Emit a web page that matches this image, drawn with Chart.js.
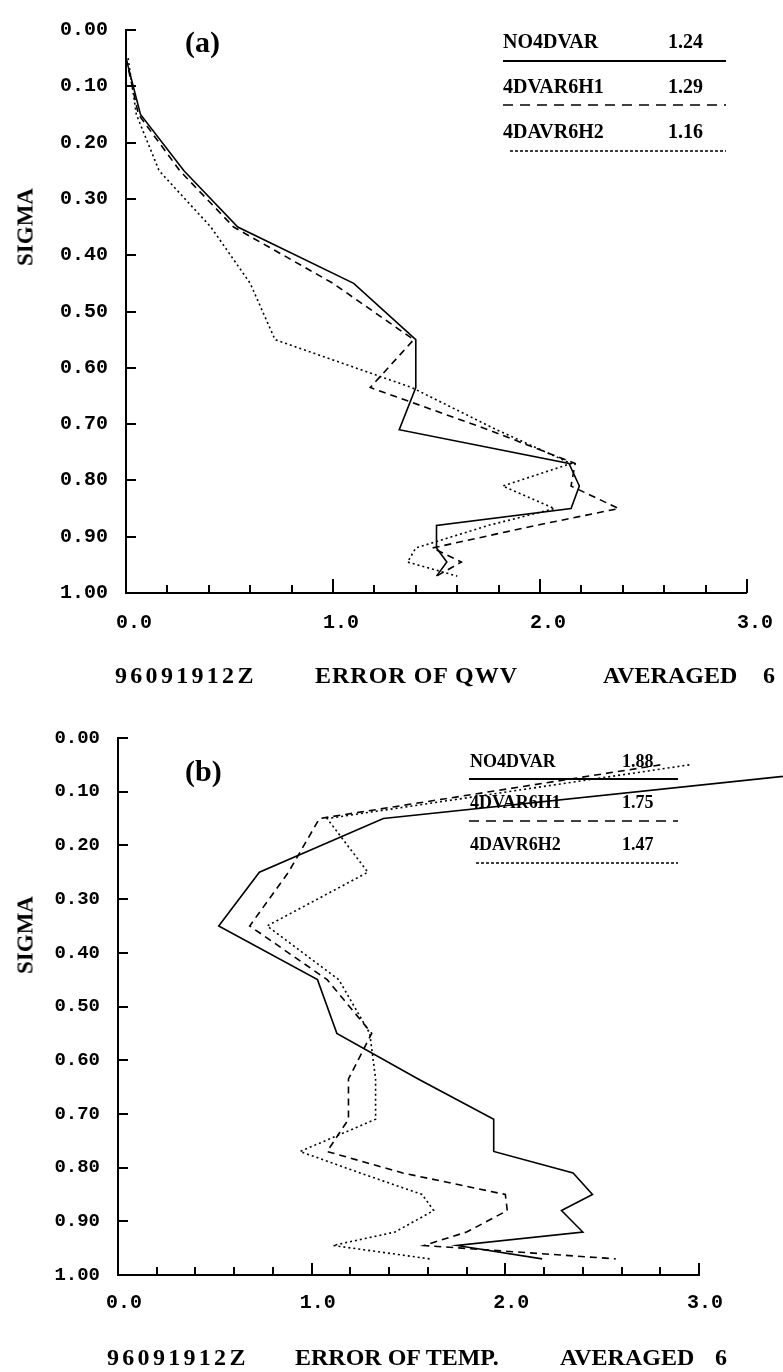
<!DOCTYPE html>
<html>
<head>
<meta charset="utf-8">
<title>Error profiles</title>
<script src="https://cdn.jsdelivr.net/npm/chart.js@4.4.1/dist/chart.umd.min.js"></script>
<style>
  body { margin: 0; background: #fff; }
  #page { position: relative; width: 783px; height: 1372px; overflow: hidden; background: #fff; }
  canvas { position: absolute; left: 0; }
  #chartA { top: 0; }
  #chartB { top: 690px; }
  .txt {
    position: absolute;
    font-family: "Liberation Serif", "DejaVu Serif", serif;
    font-weight: bold;
    color: #000;
    white-space: pre;
    line-height: 1;
  }
  .sigma { font-size: 23px; transform: translate(-50%, -50%) rotate(-90deg); }
  .cap { font-size: 24px; }
</style>
</head>
<body>
<div id="page">
  <canvas id="chartA" width="783" height="690"></canvas>
  <canvas id="chartB" width="783" height="682"></canvas>

  <div class="txt" style="left:185px; top:27px; font-size:30px;">(a)</div>
  <div class="txt sigma" style="left:25px; top:227px;">SIGMA</div>
  <div class="txt cap" style="left:115px; top:663px; letter-spacing:3.3px;">96091912Z</div>
  <div class="txt cap" style="left:315px; top:663px; letter-spacing:1px;">ERROR OF QWV</div>
  <div class="txt cap" style="left:603px; top:663px;">AVERAGED</div>
  <div class="txt cap" style="left:763px; top:663px;">6</div>

  <div class="txt" style="left:185px; top:756px; font-size:30px;">(b)</div>
  <div class="txt sigma" style="left:25px; top:935px;">SIGMA</div>
  <div class="txt cap" style="left:107px; top:1345px; letter-spacing:3.3px;">96091912Z</div>
  <div class="txt cap" style="left:295px; top:1345px;">ERROR OF TEMP.</div>
  <div class="txt cap" style="left:560px; top:1345px;">AVERAGED</div>
  <div class="txt cap" style="left:715px; top:1345px;">6</div>
</div>

<script>
// sigma levels shared by every profile
const SIGMA = [0.05, 0.15, 0.25, 0.35, 0.45, 0.55, 0.635, 0.71, 0.77, 0.81, 0.85, 0.88, 0.92, 0.945, 0.97];

const SERIES_NAMES = ['NO4DVAR', '4DVAR6H1', '4DAVR6H2'];

// (a) error of QWV
const QWV_NO4DVAR  = [0.00, 0.07, 0.28, 0.54, 1.10, 1.40, 1.40, 1.32, 2.14, 2.19, 2.15, 1.50, 1.50, 1.55, 1.50];
const QWV_4DVAR6H1 = [0.00, 0.06, 0.26, 0.52, 1.00, 1.39, 1.18, 1.75, 2.17, 2.15, 2.38, 1.98, 1.48, 1.62, 1.50];
const QWV_4DAVR6H2 = [0.01, 0.05, 0.16, 0.41, 0.60, 0.72, 1.38, 1.79, 2.15, 1.82, 2.07, 1.75, 1.40, 1.36, 1.60];
const QWV_MEANS = ['1.24', '1.29', '1.16'];

// (b) error of temperature
const TEMP_NO4DVAR  = [4.00, 1.37, 0.73, 0.52, 1.03, 1.13, 1.55, 1.94, 1.94, 2.35, 2.45, 2.29, 2.40, 1.75, 2.19];
const TEMP_4DVAR6H1 = [2.80, 1.04, 0.88, 0.68, 1.08, 1.31, 1.19, 1.19, 1.08, 1.47, 2.00, 2.01, 1.80, 1.58, 2.57];
const TEMP_4DAVR6H2 = [2.95, 1.08, 1.29, 0.77, 1.14, 1.30, 1.33, 1.33, 0.94, 1.25, 1.57, 1.63, 1.43, 1.11, 1.61];
const TEMP_MEANS = ['1.88', '1.75', '1.47'];

const X_MAX = 3;

const LINE_DASH = [[], [7, 5], [2, 3]];
const LEGEND_DASH = [[], [10, 7], [3, 2]];

function profile(values) {
    return values.map((v, i) => ({ x: v, y: SIGMA[i] }));
}

function makeDatasets(series, noClipFirst) {
    return series.map((vals, i) => ({
        label: SERIES_NAMES[i],
        data: profile(vals),
        showLine: true,
        borderColor: '#000',
        borderWidth: 1.6,
        borderDash: LINE_DASH[i],
        pointRadius: 0,
        tension: 0,
        clip: (noClipFirst && i === 0) ? false : undefined
    }));
}

// ticks drawn inward, like the old plotting package
const paperTicks = {
    id: 'paperTicks',
    afterDraw(chart, args, opts) {
        const { ctx, chartArea } = chart;
        const xs = chart.scales.x, ys = chart.scales.y;
        ctx.save();
        ctx.strokeStyle = '#000';
        ctx.lineWidth = 2;
        ctx.beginPath();
        for (let i = 0; i <= 10; i++) {
            const py = Math.round(ys.getPixelForValue(i / 10));
            ctx.moveTo(chartArea.left, py);
            ctx.lineTo(chartArea.left + opts.yLen, py);
        }
        for (let i = 1; i <= 15; i++) {
            const px = Math.round(xs.getPixelForValue(i * 0.2));
            const len = i % 5 === 0 ? opts.majorLen : opts.minorLen;
            ctx.moveTo(px, chartArea.bottom);
            ctx.lineTo(px, chartArea.bottom - len);
        }
        ctx.stroke();
        ctx.restore();
    }
};

// legend box with mean values, drawn on top of the profiles
const paperLegend = {
    id: 'paperLegend',
    afterDraw(chart, args, opts) {
        const ctx = chart.ctx;
        ctx.save();
        ctx.fillStyle = '#000';
        ctx.strokeStyle = '#000';
        ctx.textBaseline = 'middle';
        ctx.font = 'bold ' + opts.fontSize + 'px "Liberation Serif", "DejaVu Serif", serif';
        chart.data.datasets.forEach((ds, i) => {
            ctx.fillText(ds.label, opts.nameX, opts.textY[i]);
            ctx.fillText(opts.values[i], opts.valueX, opts.textY[i]);
            ctx.beginPath();
            ctx.setLineDash(LEGEND_DASH[i]);
            ctx.lineWidth = i === 0 ? 2 : 1.6;
            ctx.moveTo(opts.lineX0[i], opts.lineY[i]);
            ctx.lineTo(opts.lineX1, opts.lineY[i]);
            ctx.stroke();
        });
        ctx.restore();
    }
};

function makeChart(canvasId, series, cfg) {
    const ctx = document.getElementById(canvasId).getContext('2d');
    return new Chart(ctx, {
        type: 'scatter',
        data: { datasets: makeDatasets(series, cfg.noClipFirst) },
        plugins: [paperTicks, paperLegend],
        options: {
            responsive: false,
            animation: false,
            layout: { padding: cfg.padding },
            plugins: {
                legend: { display: false },
                tooltip: { enabled: false },
                paperTicks: { yLen: 10, minorLen: 8, majorLen: cfg.majorLen },
                paperLegend: cfg.legend
            },
            scales: {
                x: {
                    type: 'linear',
                    min: 0,
                    max: X_MAX,
                    grid: { display: false, drawTicks: false },
                    border: { display: true, color: '#000', width: 2 },
                    ticks: {
                        stepSize: 1,
                        padding: cfg.xPad,
                        labelOffset: cfg.xLabelOffset,
                        color: '#000',
                        font: { family: '"Liberation Mono", "DejaVu Sans Mono", monospace', size: 20, weight: 'bold' },
                        callback: v => Number(v).toFixed(1)
                    },
                    afterFit: s => { s.height = 50; }
                },
                y: {
                    type: 'linear',
                    reverse: true,
                    min: 0,
                    max: 1,
                    grid: { display: false, drawTicks: false },
                    border: { display: true, color: '#000', width: 2 },
                    ticks: {
                        stepSize: 0.1,
                        padding: 18,
                        color: '#000',
                        font: { family: '"Liberation Mono", "DejaVu Sans Mono", monospace', size: cfg.yFont, weight: 'bold' },
                        callback: v => Number(v).toFixed(2)
                    },
                    afterFit: s => { s.width = cfg.axisLeft; }
                }
            }
        }
    });
}

document.addEventListener("DOMContentLoaded", function () {

    makeChart('chartA', [QWV_NO4DVAR, QWV_4DVAR6H1, QWV_4DAVR6H2], {
        axisLeft: 126,
        padding: { left: 0, top: 17, right: 35, bottom: 47 },
        xPad: 18,
        xLabelOffset: 8,
        yFont: 20,
        majorLen: 14,
        legend: {
            fontSize: 20,
            nameX: 503,
            valueX: 668,
            textY: [43, 88, 133],
            lineY: [61, 105, 151],
            lineX0: [503, 503, 510],
            lineX1: 726,
            values: QWV_MEANS
        }
    });

    makeChart('chartB', [TEMP_NO4DVAR, TEMP_4DVAR6H1, TEMP_4DAVR6H2], {
        noClipFirst: true,
        axisLeft: 118,
        padding: { left: 0, top: 48, right: 84, bottom: 47 },
        xPad: 16,
        xLabelOffset: 6,
        yFont: 19,
        majorLen: 12,
        legend: {
            fontSize: 18,
            nameX: 470,
            valueX: 622,
            textY: [72, 113, 155],
            lineY: [89, 131, 173],
            lineX0: [469, 469, 476],
            lineX1: 678,
            values: TEMP_MEANS
        }
    });
});
</script>
</body>
</html>
